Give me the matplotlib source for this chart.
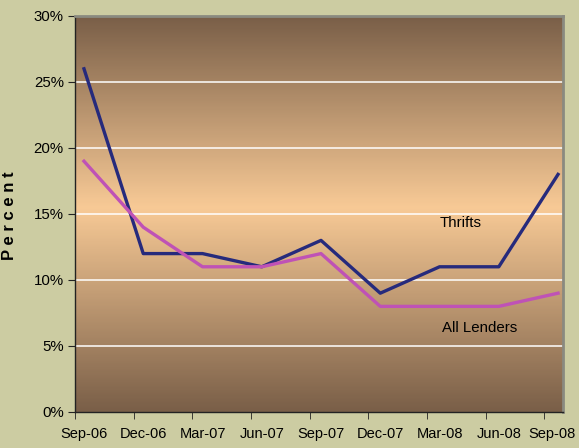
import numpy as np
import matplotlib.pyplot as plt
import matplotlib.transforms as mtransforms
from matplotlib.colors import LinearSegmentedColormap

plt.rcParams['font.family'] = ['Liberation Sans', 'DejaVu Sans']

quarters = ['Sep-06', 'Dec-06', 'Mar-07', 'Jun-07', 'Sep-07',
            'Dec-07', 'Mar-08', 'Jun-08', 'Sep-08']
thrifts = [26, 12, 12, 11, 13, 9, 11, 11, 18]
all_lenders = [19, 14, 11, 11, 12, 8, 8, 8, 9]

bg = '#cccca2'
fig = plt.figure(figsize=(5.79, 4.48), dpi=100, facecolor=bg)
ax = fig.add_axes([0.1295, 0.0804, 0.8429, 0.8839])

x = np.arange(len(quarters))
xlo, xhi = -0.152, 8.084

# gradient fondo: oscuro arriba y abajo, claro hacia el 15%
cmap = LinearSegmentedColormap.from_list(
    'g', [(0, '#7a5f48'), (0.5, '#f8ca96'), (1, '#7a5f48')])
yy = np.linspace(30, 0, 300)
t = np.where(yy > 15.5, 0.5 * (30 - yy) / 14.5, 0.5 + 0.5 * (15.5 - yy) / 15.5)
ax.imshow(t[:, None], cmap=cmap, vmin=0, vmax=1, aspect='auto',
          extent=[xlo, xhi, 0, 30], zorder=0, interpolation='bilinear')

for g in [5, 10, 15, 20, 25]:
    ax.axhline(g, color='white', lw=1.1, zorder=1)

ax.plot(x, thrifts, color='#262a7c', lw=2.4, zorder=3)
ax.plot(x, all_lenders, color='#bf52b6', lw=2.4, zorder=3)

fs = 10.8
ax.text(6.35, 14.3, 'Thrifts', ha='center', va='center', fontsize=fs)
ax.text(6.67, 6.4, 'All Lenders', ha='center', va='center', fontsize=fs)

ax.set_xlim(xlo, xhi)
ax.set_ylim(0, 30)
ax.set_yticks(np.arange(0, 31, 5))
ax.set_yticklabels([f'{v}%' for v in range(0, 31, 5)], fontsize=fs)
ax.set_xticks(x)
ax.set_xticklabels(quarters, fontsize=10.5)
ax.tick_params(axis='x', length=0, pad=11)
ax.set_xticks(xlo + np.arange(9) * 0.99, minor=True)
ax.tick_params(axis='x', which='minor', length=5, color='#222222')
ax.tick_params(axis='y', length=5, color='#222222', pad=3)

# la ultima etiqueta se corre un poco para que no se corte
last = ax.get_xticklabels()[-1]
last.set_transform(last.get_transform() +
                   mtransforms.ScaledTranslation(-6 / 100, 0, fig.dpi_scale_trans))

ax.set_ylabel('P e r c e n t', fontsize=12, fontweight='bold')
ax.yaxis.set_label_coords(-0.119, 0.495)

for s in ['left', 'bottom']:
    ax.spines[s].set_color('#222222')
    ax.spines[s].set_linewidth(1.0)
for s in ['top', 'right']:
    ax.spines[s].set_color('#8a8a80')
    ax.spines[s].set_linewidth(2.0)

fig.savefig('out.png', dpi=100, facecolor=bg)
